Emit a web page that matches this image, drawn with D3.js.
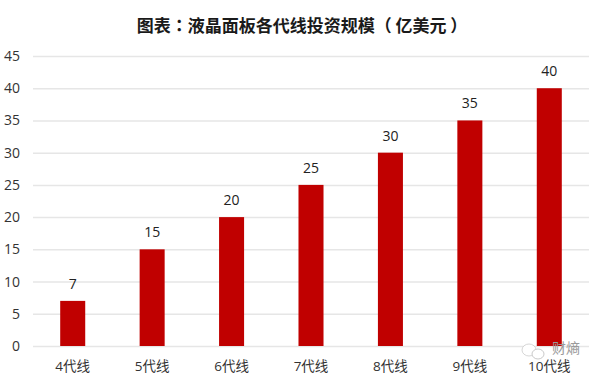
<!DOCTYPE html>
<html>
<head>
<meta charset="utf-8">
<script src="https://cdn.jsdelivr.net/npm/d3@7"></script>
<style>
	html, body { margin: 0; padding: 0; background: #fff; }
	svg { display: block; }
	text { font-family: "Noto Sans CJK SC", "Open Sans", sans-serif; }
	.tick-num, .axis--x text { font-family: "Open Sans", "Noto Sans CJK SC", sans-serif; }
	.chart-title { font-family: "Noto Sans CJK TC", sans-serif; text-spacing-trim: space-all; }
</style>
</head>
<body>
<svg id="chart" width="600" height="381"></svg>
<script>
const categories = ['4代线', '5代线', '6代线', '7代线', '8代线', '9代线', '10代线']
const investment = [7, 15, 20, 25, 30, 35, 40]
const yTicks = [0, 5, 10, 15, 20, 25, 30, 35, 40, 45]
const titleText = '图表：液晶面板各代线投资规模（ 亿美元 ）'
const watermarkText = '财熵'

const margins = { top: 56, right: 11, bottom: 35, left: 33 }
const width = 600 - margins.left - margins.right
const height = 381 - margins.top - margins.bottom

const x = d3.scaleBand().domain(categories).range([0, width]).paddingInner(0.685).paddingOuter(0.3425)
const y = d3.scaleLinear().domain([0, 45]).range([height, 0])

const svg = d3.select('#chart')

svg.append('text')
	.attr('class', 'chart-title')
	.attr('x', 302)
	.attr('y', 32)
	.attr('text-anchor', 'middle')
	.attr('font-size', 17)
	.attr('font-weight', 700)
	.attr('fill', '#1a1a1a')
	.text(titleText)

const topG = svg.append('g')
	.attr('transform', `translate(${margins.left}, ${margins.top})`)

// gridlines + y labels
const yAxis = topG.append('g').attr('class', 'axis axis--y')
	.call(d3.axisLeft(y).tickValues(yTicks).tickSize(-width).tickPadding(13))
yAxis.select('.domain').remove()
yAxis.selectAll('.tick line').attr('stroke', '#e6e6e6').attr('stroke-width', 1.5)
yAxis.selectAll('.tick text')
	.attr('class', 'tick-num')
	.attr('font-size', 14)
	.attr('fill', '#333')

topG.selectAll('.bar').data(investment)
	.enter().append('rect')
	.attr('class', 'bar')
	.attr('fill', '#c00000')
	.attr('x', (d, i) => x(categories[i]))
	.attr('width', x.bandwidth())
	.attr('y', d => y(d))
	.attr('height', d => height - y(d))

topG.selectAll('.bar-label').data(investment)
	.enter().append('text')
	.attr('class', 'bar-label tick-num')
	.attr('x', (d, i) => x(categories[i]) + x.bandwidth() / 2)
	.attr('y', d => y(d) - 12)
	.attr('text-anchor', 'middle')
	.attr('font-size', 14)
	.attr('fill', '#222')
	.text(d => d)

const xAxis = topG.append('g').attr('class', 'axis axis--x')
	.attr('transform', `translate(0, ${height})`)
	.call(d3.axisBottom(x).tickSize(0).tickPadding(15))
xAxis.select('.domain').remove()
xAxis.selectAll('text').attr('font-size', 13.5).attr('fill', '#333')

// watermark
const mark = svg.append('g')
mark.append('ellipse').attr('cx', 529).attr('cy', 350).attr('rx', 7).attr('ry', 6)
	.attr('fill', '#fff').attr('stroke', '#ccc').attr('stroke-width', 0.8)
mark.append('ellipse').attr('cx', 538).attr('cy', 354).attr('rx', 6).attr('ry', 5)
	.attr('fill', '#fff').attr('stroke', '#bbb').attr('stroke-width', 0.8)
mark.append('text')
	.attr('x', 552)
	.attr('y', 353)
	.attr('font-size', 14)
	.attr('fill', '#9a9a9a')
	.text(watermarkText)
</script>
</body>
</html>
